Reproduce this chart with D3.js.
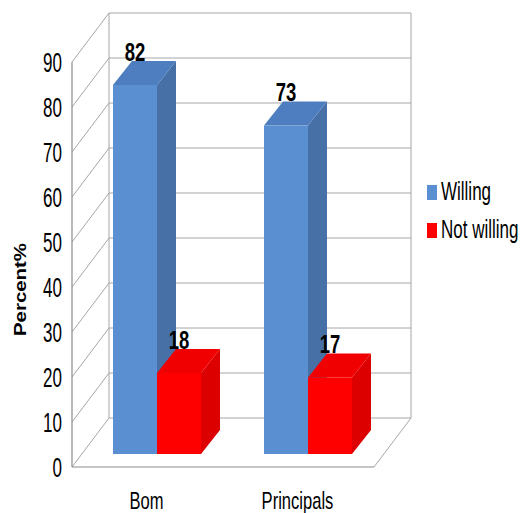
<!DOCTYPE html>
<html>
<head>
<meta charset="utf-8">
<script src="https://cdn.jsdelivr.net/npm/d3@7"></script>
<style>
  html, body { margin: 0; padding: 0; background: #ffffff; }
  svg { display: block; }
  text { font-family: "Liberation Sans", Arial, sans-serif; fill: #000; }
</style>
</head>
<body>
<svg id="chart" width="520" height="513"></svg>
<script>
// Chart data
const categories = ["Bom", "Principals"];
const seriesNames = ["Willing", "Not willing"];
const willing = [82, 73];
const notWilling = [18, 17];
const yTicks = [0, 10, 20, 30, 40, 50, 60, 70, 80, 90];
const yTitle = "Percent%";

const seriesValues = [willing, notWilling];
const palette = [
  { front: "#5A8FD2", side: "#4670A6", top: "#4E7EBF" },
  { front: "#FF0000", side: "#DC0000", top: "#F00000" }
];

const svg = d3.select("#chart");

// Front plane of the 3D box
const x0 = 72, x1 = 374;
const y = d3.scaleLinear().domain([0, 90]).range([467, 62]);
const x = d3.scaleBand().domain(categories).range([x0, x1]).padding(0);

// Depth of the box (front -> back wall)
const depth = { dx: 37, dy: -49 };
// Bars sit part way into the box and have their own depth
const barOffset = { dx: 9.5, dy: -13 };
const barDepth = { dx: 19, dy: -24 };
const barW = 44;

const gridColor = "#A6A6A6";
const grid = svg.append("g").attr("fill", "none").attr("stroke", gridColor).attr("stroke-width", 1);

const bx0 = x0 + depth.dx, bx1 = x1 + depth.dx;
const by = v => y(v) + depth.dy;

// Back wall horizontal grid lines
grid.selectAll("line.back").data(yTicks).join("line")
  .attr("x1", bx0).attr("x2", bx1)
  .attr("y1", d => by(d)).attr("y2", d => by(d));
// Side wall diagonals
grid.selectAll("line.side").data(yTicks).join("line")
  .attr("x1", x0).attr("y1", d => y(d))
  .attr("x2", bx0).attr("y2", d => by(d));
// Back wall edges
grid.append("line").attr("x1", bx0).attr("x2", bx0).attr("y1", by(90)).attr("y2", by(0));
grid.append("line").attr("x1", bx1).attr("x2", bx1).attr("y1", by(90)).attr("y2", by(0));
// Floor outline
grid.append("line").attr("x1", x1).attr("y1", y(0)).attr("x2", bx1).attr("y2", by(0));
// Front axis lines
const axisColor = "#8C8C8C";
svg.append("line").attr("x1", x0).attr("x2", x0).attr("y1", y(90)).attr("y2", y(0))
  .attr("stroke", axisColor).attr("stroke-width", 1.2);
svg.append("line").attr("x1", x0).attr("x2", x1).attr("y1", y(0)).attr("y2", y(0))
  .attr("stroke", axisColor).attr("stroke-width", 1.2);

// Y tick labels
svg.append("g").selectAll("text").data(yTicks).join("text")
  .attr("transform", d => `translate(62,${y(d)}) scale(0.63,1)`)
  .attr("text-anchor", "end").attr("dy", "0.36em")
  .attr("font-size", 27)
  .text(d => d);

// Y axis title
svg.append("text")
  .attr("transform", "translate(26,289.5) rotate(-90)")
  .attr("text-anchor", "middle")
  .attr("font-weight", "bold").attr("font-size", 17)
  .attr("textLength", 93).attr("lengthAdjust", "spacingAndGlyphs")
  .text(yTitle);

// Bars
const bars = [];
categories.forEach((c, ci) => {
  const cx = x(c) + x.bandwidth() / 2 + barOffset.dx;
  seriesValues.forEach((vals, si) => {
    const v = vals[ci];
    const left = cx - barW + si * barW;
    bars.push({ c, si, v, left, right: left + barW });
  });
});

const bg = svg.append("g");
bars.forEach(b => {
  const col = palette[b.si];
  const yb = y(0) + barOffset.dy;
  const yt = y(b.v) + barOffset.dy;
  const g = bg.append("g");
  // side face
  g.append("path").attr("fill", col.side)
    .attr("d", d3.line()([[b.right, yt], [b.right + barDepth.dx, yt + barDepth.dy],
      [b.right + barDepth.dx, yb + barDepth.dy], [b.right, yb]]) + "Z");
  // top face
  g.append("path").attr("fill", col.top)
    .attr("d", d3.line()([[b.left, yt], [b.left + barDepth.dx, yt + barDepth.dy],
      [b.right + barDepth.dx, yt + barDepth.dy], [b.right, yt]]) + "Z");
  // front face
  g.append("rect").attr("fill", col.front)
    .attr("x", b.left).attr("y", yt).attr("width", barW).attr("height", yb - yt);
});

// Value labels
svg.append("g").selectAll("text").data(bars).join("text")
  .attr("transform", d => `translate(${(d.left + d.right) / 2},${y(d.v) + barOffset.dy + barDepth.dy - 0.5}) scale(0.74,1)`)
  .attr("text-anchor", "middle")
  .attr("font-weight", "bold").attr("font-size", 25)
  .text(d => d.v);

// Category labels
svg.append("g").selectAll("text").data(categories).join("text")
  .attr("transform", d => `translate(${x(d) + x.bandwidth() / 2 - 1},509) scale(0.69,1)`)
  .attr("text-anchor", "middle")
  .attr("font-size", 24)
  .text(d => d);

// Legend
const legend = svg.append("g");
seriesNames.forEach((name, i) => {
  const ly = 200 + i * 38;
  legend.append("rect").attr("x", 427).attr("y", ly - 15).attr("width", 10).attr("height", 15)
    .attr("fill", palette[i].front);
  legend.append("text")
    .attr("transform", `translate(441,${ly}) scale(0.68,1)`)
    .attr("font-size", 25)
    .text(name);
});
</script>
</body>
</html>
